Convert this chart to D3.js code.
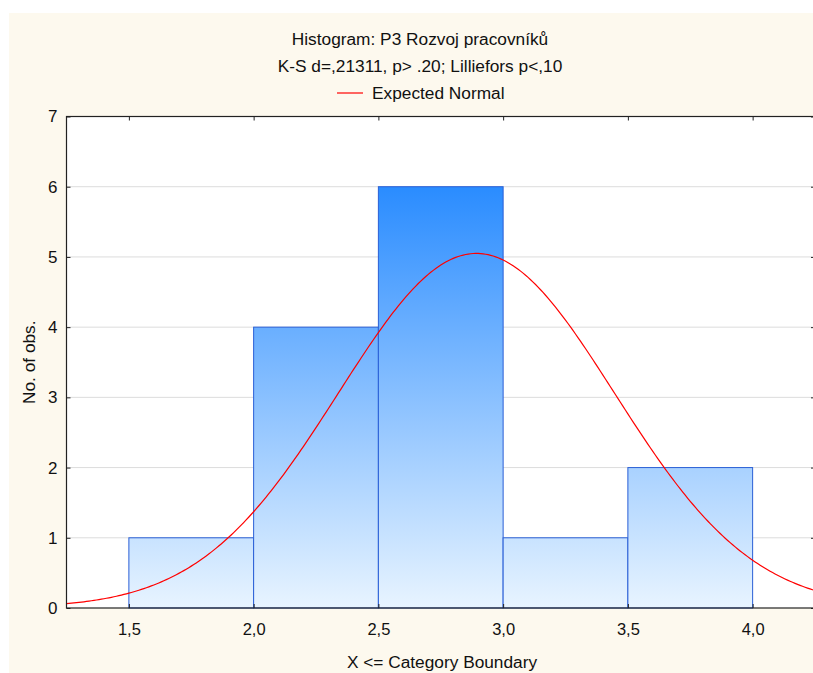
<!DOCTYPE html>
<html>
<head>
<meta charset="utf-8">
<script src="https://cdn.jsdelivr.net/npm/d3@7"></script>
<style>
  body { margin: 0; background: #fff; }
  text { font-family: "Liberation Sans", Arial, sans-serif; fill: #111; }
</style>
</head>
<body>
<div id="chart"></div>
<script>
// data
const binStarts = [1.5, 2.0, 2.5, 3.0, 3.5];
const binEnds = [2.0, 2.5, 3.0, 3.5, 4.0];
const counts = [1, 4, 6, 1, 2];
const xTicks = [1.5, 2.0, 2.5, 3.0, 3.5, 4.0];
const yTicks = [0, 1, 2, 3, 4, 5, 6, 7];
const normalMean = 2.893;
const normalSd = 0.553;
const titleLines = ["Histogram: P3 Rozvoj pracovníků", "K-S d=,21311, p> .20; Lilliefors p<,10"];

const W = 813, H = 673;
const plot = { left: 66.5, top: 116.5, right: 815, bottom: 608 };

const svg = d3.select("#chart").append("svg")
    .attr("width", W)
    .attr("height", H);

// beige panel
svg.append("rect")
    .attr("x", 9).attr("y", 13)
    .attr("width", W - 9).attr("height", H - 13)
    .attr("fill", "#fdf9ee");

const x = d3.scaleLinear().domain([1.25, 4.25]).range([plot.left, plot.right]);
const y = d3.scaleLinear().domain([0, 7]).range([plot.bottom, plot.top]);

svg.append("rect")
    .attr("x", plot.left).attr("y", plot.top)
    .attr("width", plot.right - plot.left).attr("height", plot.bottom - plot.top)
    .attr("fill", "#fff");

// gradient for bars
const grad = svg.append("defs").append("linearGradient")
    .attr("id", "barGrad")
    .attr("gradientUnits", "userSpaceOnUse")
    .attr("x1", 0).attr("x2", 0)
    .attr("y1", y(6)).attr("y2", y(0));
grad.append("stop").attr("offset", "0%").attr("stop-color", "#2a8cff");
grad.append("stop").attr("offset", "100%").attr("stop-color", "#e8f4ff");

// grid lines
svg.append("g").selectAll("line")
    .data(yTicks.filter(d => d > 0 && d < 7))
    .enter().append("line")
    .attr("x1", plot.left).attr("x2", plot.right)
    .attr("y1", d => y(d)).attr("y2", d => y(d))
    .attr("stroke", "#dcdcdc");

// bars
svg.append("g").selectAll("rect")
    .data(counts)
    .enter().append("rect")
    .attr("x", (d, i) => x(binStarts[i]))
    .attr("y", d => y(d))
    .attr("width", (d, i) => x(binEnds[i]) - x(binStarts[i]))
    .attr("height", d => y(0) - y(d))
    .attr("fill", "url(#barGrad)")
    .attr("stroke", "#2a5fd6")
    .attr("stroke-width", 1);

// expected normal curve
const total = d3.sum(counts);
const binWidth = binEnds[0] - binStarts[0];
function expected(v) {
    const z = (v - normalMean) / normalSd;
    return total * binWidth * Math.exp(-0.5 * z * z) / (normalSd * Math.sqrt(2 * Math.PI));
}
const curveX = d3.range(1.25, 4.2501, 0.01);
svg.append("path")
    .datum(curveX)
    .attr("fill", "none")
    .attr("stroke", "#ff0000")
    .attr("stroke-width", 1.2)
    .attr("d", d3.line().x(d => x(d)).y(d => y(expected(d))));

// axes, ticks drawn inward
const tickFmt = d => d3.format(".1f")(d).replace(".", ",");
svg.append("g")
    .attr("transform", `translate(0,${plot.bottom})`)
    .call(d3.axisBottom(x).tickValues(xTicks).tickSizeInner(-4).tickSizeOuter(0).tickPadding(15).tickFormat(tickFmt))
    .call(g => g.select(".domain").remove())
    .call(g => g.selectAll("line").attr("stroke", "#222"))
    .call(g => g.selectAll("text").attr("font-size", 16.5).attr("fill", "#111"));

svg.append("g")
    .attr("transform", `translate(0,${plot.top})`)
    .call(d3.axisTop(x).tickValues(xTicks).tickSizeInner(-4).tickSizeOuter(0).tickFormat(""))
    .call(g => g.select(".domain").remove())
    .call(g => g.selectAll("line").attr("stroke", "#222"));

svg.append("g")
    .attr("transform", `translate(${plot.left},0)`)
    .call(d3.axisLeft(y).tickValues(yTicks).tickSizeInner(-4).tickSizeOuter(0).tickPadding(9).tickFormat(d3.format("d")))
    .call(g => g.select(".domain").remove())
    .call(g => g.selectAll("line").attr("stroke", "#222"))
    .call(g => g.selectAll("text").attr("font-size", 17).attr("fill", "#111"));

svg.append("g")
    .attr("transform", `translate(${plot.right},0)`)
    .call(d3.axisRight(y).tickValues(yTicks).tickSizeInner(-4).tickSizeOuter(0).tickFormat(""))
    .call(g => g.select(".domain").remove())
    .call(g => g.selectAll("line").attr("stroke", "#222"));

// frame
svg.append("rect")
    .attr("x", plot.left).attr("y", plot.top)
    .attr("width", plot.right - plot.left).attr("height", plot.bottom - plot.top)
    .attr("fill", "none")
    .attr("stroke", "#222")
    .attr("stroke-width", 1.2);

// titles (centred on the panel, not the plot)
const tx = 420;
svg.selectAll(".title")
    .data(titleLines)
    .enter().append("text")
    .attr("class", "title")
    .attr("x", tx)
    .attr("y", (d, i) => 45 + i * 27)
    .attr("text-anchor", "middle")
    .attr("font-size", 17.3)
    .text(d => d);

// legend
const legend = svg.append("g").attr("transform", "translate(0,99)");
legend.append("line")
    .attr("x1", 337).attr("x2", 363)
    .attr("y1", -6).attr("y2", -6)
    .attr("stroke", "#ff0000").attr("stroke-width", 1.2);
legend.append("text")
    .attr("x", 372)
    .attr("font-size", 17.3)
    .text("Expected Normal");

// axis titles
const cx = (plot.left + plot.right) / 2;
svg.append("text")
    .attr("x", 442)
    .attr("y", 668)
    .attr("text-anchor", "middle")
    .attr("font-size", 17.3)
    .text("X <= Category Boundary");

svg.append("text")
    .attr("transform", `translate(35,${(plot.top + plot.bottom) / 2}) rotate(-90)`)
    .attr("text-anchor", "middle")
    .attr("font-size", 17.3)
    .text("No. of obs.");
</script>
</body>
</html>
